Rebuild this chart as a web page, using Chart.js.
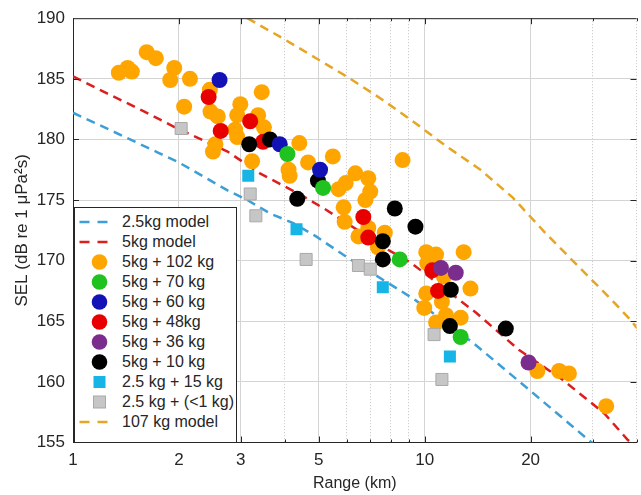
<!DOCTYPE html>
<html>
<head>
<meta charset="utf-8">
<script src="https://cdn.jsdelivr.net/npm/chart.js@4.4.1/dist/chart.umd.min.js"></script>
<style>
html,body{margin:0;padding:0;overflow:hidden;background:#fff;}
#wrap{position:relative;width:641px;height:495px;overflow:hidden;}
#legend{position:absolute;left:74px;top:207px;width:163px;height:236px;border:1.5px solid #262626;background:#fff;box-sizing:border-box;padding-top:3.5px;font:16px "Liberation Sans",Arial,sans-serif;color:#262626;}
.row{height:20px;display:flex;align-items:center;white-space:nowrap;}
.row svg{width:44px;height:20px;flex:none;margin-left:3px;}
</style>
</head>
<body>
<div id="wrap">
  <canvas id="myChart" width="646" height="495"></canvas>
  <div id="legend"></div>
</div>
<script>
// axis ticks
let xTicks = [1,2,3,4,5,6,7,8,9,10,20,30,40];
let xLabels = [1,2,3,5,10,20];

// model curves
let model25X = [1, 1.27, 1.75, 2.0, 2.75, 3.13, 3.63, 4.23, 4.91, 6.07, 9.35, 13.75, 19.9, 29.8, 38];
let model25Y = [182.2, 180.8, 178.9, 178.1, 175.8, 175.0, 173.9, 173.1, 172.0, 170.2, 166.8, 163.2, 159.3, 155.0, 152.6];
let model5X = [1, 1.25, 1.57, 1.95, 2.75, 3.4, 4.52, 5.24, 7.86, 9.16, 14.0, 18.6, 24.6, 32.4, 37.8, 41];
let model5Y = [185.2, 183.8, 182.4, 181.0, 179.0, 177.2, 175.3, 174.2, 170.9, 169.8, 165.7, 162.6, 160.2, 157.4, 155.2, 154.4];
let model107X = [3.13, 3.97, 4.91, 6.07, 7.56, 9.35, 11.56, 14.4, 17.8, 22.0, 27.4, 33.9, 38.5, 41];
let model107Y = [190.0, 188.3, 186.7, 185.1, 183.3, 181.4, 179.4, 177.5, 175.2, 172.3, 169.5, 166.8, 165.1, 164.1];

// measurements
let kg102X = [1.35,1.43,1.47,1.62,1.72,1.94,1.89,2.15,2.07,2.45,3.44,2.46,2.58,2.99,2.93,3.36,3.49,2.89,2.93,2.54,2.50,3.23,4.40,4.66,5.48,4.10,4.13,8.65,5.69,5.96,6.35,6.91,7.00,6.78,5.88,5.92,6.48,6.91,7.70,7.36,10.1,10.77,12.9,10.16,11.34,10.1,9.97,11.19,13.49,11.49,10.77,12.65,20.9,24.1,25.7,32.8];
let kg102Y = [185.5,185.9,185.6,187.2,186.7,185.9,184.9,185.0,182.7,184.1,183.9,182.3,181.9,182.9,182.0,182.0,181.0,180.8,180.2,179.6,179.0,178.2,179.7,178.1,178.6,177.5,177.0,178.3,175.9,176.4,177.2,176.8,175.7,175.0,174.4,173.2,172.0,172.7,172.3,171.1,170.7,170.5,170.7,169.8,168.7,167.3,166.1,166.6,167.7,165.5,164.9,165.3,160.9,160.9,160.7,158.0];
let kg70X = [4.07, 5.14, 8.49, 12.65];
let kg70Y = [178.8, 176.0, 170.1, 163.7];
let kg60X = [2.61, 3.87, 5.04];
let kg60Y = [184.9, 179.6, 177.5];
let kg48X = [2.43, 2.63, 3.19, 3.47, 6.69, 6.91, 10.5, 10.91];
let kg48Y = [183.5, 180.7, 181.5, 179.8, 173.6, 171.9, 169.2, 167.5];
let kg36X = [11.12, 12.25, 19.73];
let kg36Y = [169.4, 169.0, 161.6];
let kg10X = [3.17, 3.63, 4.97, 4.34, 8.22, 9.41, 7.60, 7.60, 11.86, 11.79, 17.0];
let kg10Y = [179.6, 180.0, 176.6, 175.1, 174.3, 172.8, 171.6, 170.1, 167.6, 164.6, 164.4];
let kg15X = [3.15, 4.32, 7.60, 11.79];
let kg15Y = [177.0, 172.6, 167.8, 162.1];
let kg1X = [2.03, 3.19, 3.31, 4.60, 6.48, 7.00, 10.63, 11.19];
let kg1Y = [180.9, 175.5, 173.7, 170.1, 169.6, 169.3, 163.9, 160.2];

function pts(xs, ys){
    return xs.map((x,i) => ({x: x, y: ys[i]}));
}

function modelSet(label, xs, ys, color){
    return {
        label: label, data: pts(xs, ys), showLine: true, pointRadius: 0,
        borderColor: color, borderWidth: 2.5, borderDash: [9,6], tension: 0,
        order: 20
    };
}

function dotSet(label, xs, ys, color, order){
    return {
        label: label, data: pts(xs, ys), pointStyle: 'circle', pointRadius: 8,
        backgroundColor: color, borderColor: color, borderWidth: 0, order: order
    };
}

function squareSet(label, xs, ys, color, edge, order){
    return {
        label: label, data: pts(xs, ys), pointStyle: 'rect', pointRadius: 8.5,
        backgroundColor: color, borderColor: edge, borderWidth: edge ? 1 : 0, order: order
    };
}

let datasets = [
    modelSet("2.5kg model", model25X, model25Y, "#3d9fd6"),
    modelSet("5kg model", model5X, model5Y, "#db1f1f"),
    dotSet("5kg + 102 kg", kg102X, kg102Y, "#ffa500", 12),
    dotSet("5kg + 70 kg", kg70X, kg70Y, "#1fc21f", 4),
    dotSet("5kg + 60 kg", kg60X, kg60Y, "#1212b6", 5),
    dotSet("5kg + 48kg", kg48X, kg48Y, "#e80000", 8),
    dotSet("5kg + 36 kg", kg36X, kg36Y, "#7b2d8e", 7),
    dotSet("5kg + 10 kg", kg10X, kg10Y, "#000000", 6),
    squareSet("2.5 kg + 15 kg", kg15X, kg15Y, "#17b4e6", null, 3),
    squareSet("2.5 kg + (<1 kg)", kg1X, kg1Y, "#c6c6c6", "#a9a9a9", 2),
    modelSet("107 kg model", model107X, model107Y, "#e6a623")
];

// inward ticks on all sides + top frame line
const frame = {
    id: 'frame',
    afterDraw(chart){
        const c = chart.ctx, a = chart.chartArea;
        const xs = chart.scales.x, ys = chart.scales.y;
        c.save();
        c.strokeStyle = '#262626';
        c.lineWidth = 1;
        c.beginPath();
        c.moveTo(a.left, a.top + 0.5);
        c.lineTo(a.right, a.top + 0.5);
        xTicks.forEach(v => {
            const p = Math.round(xs.getPixelForValue(v)) + 0.5;
            const len = xLabels.includes(v) ? 6 : 3;
            c.moveTo(p, a.bottom); c.lineTo(p, a.bottom - len);
            c.moveTo(p, a.top); c.lineTo(p, a.top + len);
        });
        for (let v = 160; v < 190; v += 5){
            const p = Math.round(ys.getPixelForValue(v)) + 0.5;
            c.moveTo(a.left, p); c.lineTo(a.left + 6, p);
            c.moveTo(a.right, p); c.lineTo(a.right - 6, p);
        }
        c.stroke();
        c.restore();
    }
};

Chart.defaults.font.family = '"Liberation Sans", Arial, sans-serif';
Chart.defaults.color = '#262626';

const ctx = document.getElementById("myChart").getContext('2d');
const myChart = new Chart(ctx, {
    type: 'scatter',
    data: {datasets: datasets},
    options: {
        responsive: false,
        animation: false,
        devicePixelRatio: 1,
        layout: {padding: {top: 18, right: 0, bottom: 0, left: 0}},
        plugins: {legend: {display: false}, tooltip: {enabled: false}},
        scales: {
            x: {
                type: 'logarithmic', min: 1, max: 40,
                afterBuildTicks: s => { s.ticks = xTicks.map(v => ({value: v})); },
                afterFit: s => { s.height = 52.5; },
                ticks: {
                    autoSkip: false, maxRotation: 0, padding: 8,
                    font: {size: 17},
                    callback: v => xLabels.includes(v) ? String(v) : ''
                },
                grid: {
                    drawTicks: false,
                    color: c => (c.tick && xLabels.includes(c.tick.value)) ? '#d4d4d4' : '#c4c4c4'
                },
                border: {
                    color: '#262626', width: 1,
                    dash: c => (c.tick && !xLabels.includes(c.tick.value)) ? [1,2] : []
                },
                title: {display: true, text: 'Range (km)', font: {size: 16}, padding: {top: 0, bottom: 1.5}}
            },
            y: {
                min: 155, max: 190,
                afterFit: s => { s.width = 73; },
                ticks: {stepSize: 5, padding: 8, font: {size: 17}},
                grid: {drawTicks: false, color: '#d4d4d4'},
                border: {color: '#262626', width: 1},
                title: {display: true, text: 'SEL (dB re 1 μPa²s)', font: {size: 17}, padding: {top: 12}}
            }
        }
    },
    plugins: [frame]
});

// legend box
let legend = document.getElementById("legend");
datasets.forEach(d => {
    let sym;
    if (d.showLine) {
        sym = '<line x1="1.5" y1="10" x2="31.5" y2="10" stroke="' + d.borderColor + '" stroke-width="2.5" stroke-dasharray="10,8"/>';
    } else if (d.pointStyle === 'rect') {
        sym = '<rect x="15.5" y="4" width="12" height="12" fill="' + d.backgroundColor + '"' + (d.borderWidth ? ' stroke="' + d.borderColor + '"' : '') + '/>';
    } else {
        sym = '<circle cx="21.5" cy="10" r="7.8" fill="' + d.backgroundColor + '"/>';
    }
    let row = document.createElement("div");
    row.className = "row";
    row.innerHTML = '<svg viewBox="0 0 44 20">' + sym + '</svg><span></span>';
    row.querySelector("span").textContent = d.label;
    legend.appendChild(row);
});
</script>
</body>
</html>
